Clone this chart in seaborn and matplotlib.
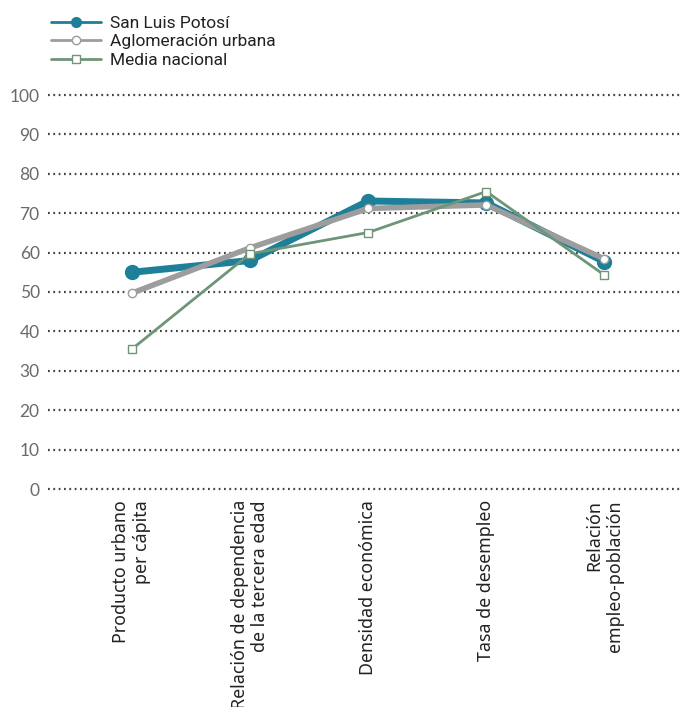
import matplotlib
matplotlib.use("Agg")
import matplotlib.pyplot as plt
import seaborn as sns
import pandas as pd
from matplotlib.lines import Line2D

categories = ["Producto urbano\nper cápita",
              "Relación de dependencia\nde la tercera edad",
              "Densidad económica",
              "Tasa de desempleo",
              "Relación\nempleo-población"]
san_luis = [55.0, 58.0, 73.1, 72.6, 57.7]
aglomeracion = [49.7, 61.2, 71.2, 72.1, 58.4]
media_nacional = [35.5, 59.7, 65.1, 75.5, 54.3]
yticks = [0, 10, 20, 30, 40, 50, 60, 70, 80, 90, 100]

series_names = ["San Luis Potosí", "Aglomeración urbana", "Media nacional"]
df = pd.DataFrame({
    "cat": list(range(len(categories))) * 3,
    "valor": san_luis + aglomeracion + media_nacional,
    "serie": [series_names[0]] * 5 + [series_names[1]] * 5 + [series_names[2]] * 5,
})

sns.set_theme(style="white")
plt.rcParams['font.family'] = ['Noto Sans', 'DejaVu Sans']

teal = "#1e7f98"
gray = "#9d9d9d"
green = "#6e9578"

fig = plt.figure(figsize=(6.8, 7.07), dpi=100)
ax = fig.add_axes([48/680, 1-489/707, 1-48/680, (489-95)/707])

styles = {
    series_names[0]: dict(color=teal, lw=5, marker="o", ms=10, mfc=teal, mec=teal, mew=1, z=3),
    series_names[1]: dict(color=gray, lw=4, marker="o", ms=6, mfc="white", mec=gray, mew=1, z=4),
    series_names[2]: dict(color=green, lw=2, marker="s", ms=6, mfc="white", mec=green, mew=1, z=5),
}

for name in series_names:
    st = styles[name]
    sub = df[df["serie"] == name]
    sns.lineplot(data=sub, x="cat", y="valor", ax=ax, color=st["color"], lw=st["lw"],
                 marker=st["marker"], markersize=st["ms"], markerfacecolor=st["mfc"],
                 markeredgecolor=st["mec"], markeredgewidth=st["mew"], zorder=st["z"],
                 legend=False, solid_joinstyle="round", solid_capstyle="round")

ax.set_xlim(-0.71, 4.64)
ax.set_ylim(0, 100)
ax.set_yticks(yticks)
ax.set_yticklabels([str(t) for t in yticks], fontsize=12.5, color="#6a6a6a",
                   family=["Lato", "DejaVu Sans"])
ax.set_xticks(range(len(categories)))
ax.set_xticklabels(categories, rotation=90, fontsize=12.8, color="#222222",
                   ha="center", va="top", multialignment="right")
ax.tick_params(axis="both", length=0, pad=6)
ax.tick_params(axis="x", pad=8)
for s in ax.spines.values():
    s.set_visible(False)
ax.set_xlabel("")
ax.set_ylabel("")
ax.grid(False)
for t in yticks:
    ax.axhline(t, color="#444444", lw=1.6, ls=(0, (0.8, 1.6)), zorder=1, clip_on=False)

handles = []
for name in series_names:
    st = styles[name]
    ms = {series_names[0]: 7, series_names[1]: 6, series_names[2]: 6}[name]
    handles.append(Line2D([0], [0], color=st["color"], lw=2, marker=st["marker"],
                          markersize=ms, markerfacecolor=st["mfc"],
                          markeredgecolor=st["mec"], markeredgewidth=1))
leg = fig.legend(handles, series_names, loc="upper left", bbox_to_anchor=(44/680, 1-9/707),
                 frameon=False, fontsize=12.5, handlelength=2.9, handletextpad=0.5,
                 labelspacing=0.18, borderaxespad=0)
for t in leg.get_texts():
    t.set_color("#222222")
    t.set_family(["Roboto", "DejaVu Sans"])

fig.savefig("out.png", dpi=100)
